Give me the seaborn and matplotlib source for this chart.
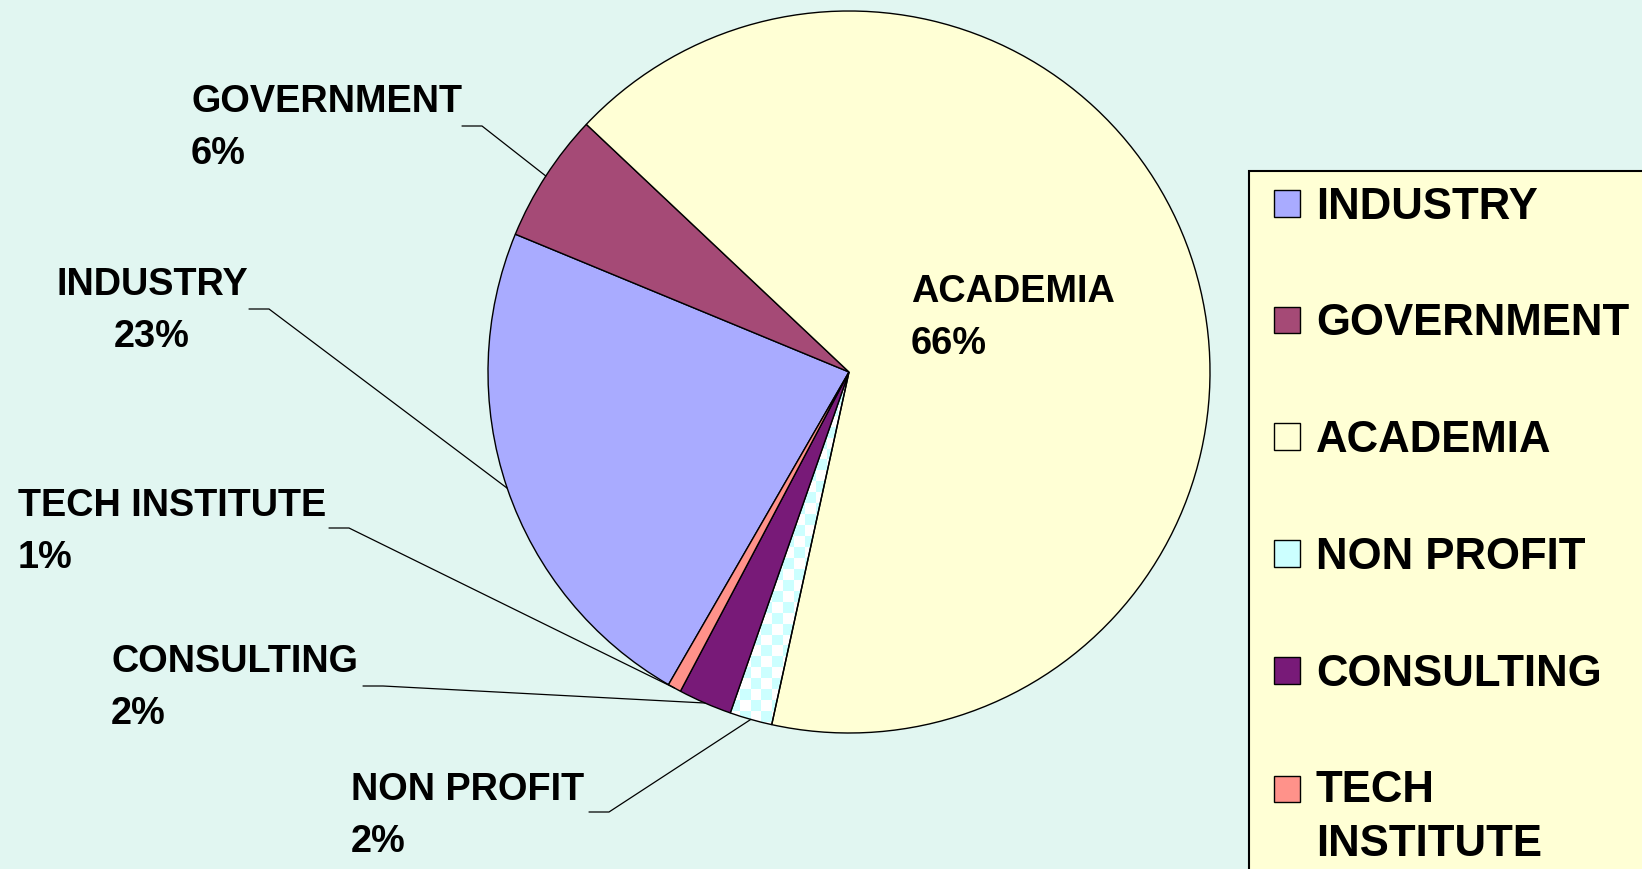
import matplotlib
matplotlib.use("Agg")
import matplotlib.pyplot as plt
from matplotlib.patches import Patch
from matplotlib.legend_handler import HandlerPatch
from matplotlib.colors import ListedColormap
import seaborn as sns
import numpy as np

# data (percent of respondents)
categories = ["INDUSTRY", "GOVERNMENT", "ACADEMIA", "NON PROFIT", "CONSULTING", "TECH INSTITUTE"]
shares = [22.9, 5.8, 66.4, 1.9, 2.4, 0.6]
legend_labels = ["INDUSTRY", "GOVERNMENT", "ACADEMIA", "NON PROFIT", "CONSULTING", "TECH\nINSTITUTE"]

colors = ["#a9abff", "#a54a76", "#ffffd5", "#ccffff", "#781a78", "#ff928a"]
BG = "#e1f6f1"
LEGEND_BG = "#ffffd5"

sns.set_theme(style="white")
plt.rcParams['font.family'] = ['Liberation Sans', 'DejaVu Sans']
plt.rcParams['text.color'] = 'black'

W, H = 1642, 869
CX, CY, R = 849, 372, 361  # pie centre / radius in pixels


def px(x, y):
    # pixel position (from top-left) -> pie data coords
    return (x - CX) / R, (CY - y) / R


class OffsetPatchHandler(HandlerPatch):
    def __init__(self, dx=0.0, dy=0.0):
        super().__init__()
        self.dx, self.dy = dx, dy

    def create_artists(self, legend, orig_handle, xdescent, ydescent,
                       width, height, fontsize, trans):
        return super().create_artists(legend, orig_handle, xdescent - self.dx,
                                      ydescent - self.dy, width, height,
                                      fontsize, trans)


def make_chart():
    fig = plt.figure(figsize=(W / 100, H / 100), dpi=100, facecolor=BG)
    ax = fig.add_axes([(CX - R) / W, (H - CY - R) / H, 2 * R / W, 2 * R / H])
    ax.set_facecolor('none')

    pal = sns.color_palette(colors)
    wedges, _ = ax.pie(shares, colors=pal, startangle=240.0, counterclock=False,
                       radius=1, wedgeprops=dict(edgecolor='black', linewidth=1.0))

    # checkered fill for NON PROFIT
    np_idx = categories.index("NON PROFIT")
    wedges[np_idx].set_facecolor('none')
    n = 66
    board = np.indices((n, n)).sum(axis=0) % 2
    im = ax.imshow(board, cmap=ListedColormap(['white', colors[np_idx]]),
                   extent=(-1, 1, -1, 1), interpolation='nearest', zorder=0)
    im.set_clip_path(wedges[np_idx])
    ax.set_xlim(-1, 1)
    ax.set_ylim(-1, 1)
    ax.axis('off')

    # data labels: top-left (pixels) and alignment
    label_pos = {
        "GOVERNMENT": (191, 84, 'left'),
        "INDUSTRY": (152, 267, 'center'),
        "TECH INSTITUTE": (18, 488, 'left'),
        "CONSULTING": (111, 644, 'left'),
        "NON PROFIT": (351, 772, 'left'),
        "ACADEMIA": (911, 274, 'left'),
    }
    leader_start = {
        "GOVERNMENT": (462, 126),
        "INDUSTRY": (249, 309),
        "TECH INSTITUTE": (329, 528),
        "CONSULTING": (363, 686),
        "NON PROFIT": (589, 812),
    }
    for cat, val, w in zip(categories, shares, wedges):
        x, y, ha = label_pos[cat]
        ax.text(*px(x, y), f"{cat}\n{val:.0f}%", ha=ha, va='top', fontsize=27.3,
                fontweight='bold', linespacing=1.58, clip_on=False, color='black')
        if cat in leader_start:
            sx, sy = leader_start[cat]
            mid = np.deg2rad((w.theta1 + w.theta2) / 2)
            p0 = px(sx, sy)
            p1 = px(sx + 20, sy)
            ax.plot([p0[0], p1[0], np.cos(mid)], [p0[1], p1[1], np.sin(mid)],
                    color='black', lw=0.9, clip_on=False, zorder=3)

    handles = [Patch(facecolor=c, edgecolor='black', linewidth=1) for c in colors]
    hmap = {h: OffsetPatchHandler(dx=6.5) for h in handles}
    hmap[handles[-1]] = OffsetPatchHandler(dx=6.5, dy=21)
    leg = fig.legend(handles, legend_labels, loc='upper left',
                     bbox_to_anchor=(1249 / W, 1 - 171 / H), bbox_transform=fig.transFigure,
                     frameon=True, fancybox=False, facecolor=LEGEND_BG, edgecolor='black',
                     framealpha=1, borderpad=0.36, borderaxespad=0,
                     prop=dict(weight='bold', size=31.5), labelspacing=1.73,
                     handlelength=0.6, handleheight=0.57, handletextpad=0.57,
                     handler_map=hmap, labelcolor='black')
    leg.get_frame().set_linewidth(1.5)
    for t in leg.get_texts():
        t.set_linespacing(1.4)

    fig.savefig("out.png", dpi=100, facecolor=BG)


if __name__ == "__main__":
    make_chart()
